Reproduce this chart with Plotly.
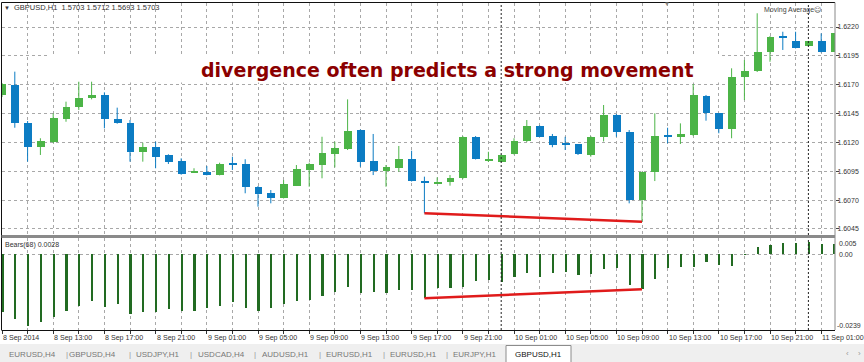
import plotly.graph_objects as go
import numpy as np

# ---------------- data ----------------
time_labels = ["8 Sep 2014", "8 Sep 13:00", "8 Sep 17:00", "8 Sep 21:00", "9 Sep 01:00",
               "9 Sep 05:00", "9 Sep 09:00", "9 Sep 13:00", "9 Sep 17:00", "9 Sep 21:00",
               "10 Sep 01:00", "10 Sep 05:00", "10 Sep 09:00", "10 Sep 13:00", "10 Sep 17:00",
               "10 Sep 21:00", "11 Sep 01:00"]
label_bars = list(range(0, 65, 4))
day_start_bars = [39, 63]

opens = [1.61611, 1.61697, 1.61371, 1.61158, 1.61206, 1.61405, 1.61504, 1.61582, 1.61611, 1.61400,
         1.61365, 1.61119, 1.61158, 1.61091, 1.61039, 1.60943, 1.60946, 1.60917, 1.61017, 1.61010,
         1.60816, 1.60759, 1.60721, 1.60825, 1.60961, 1.61004, 1.61099, 1.61143, 1.61307, 1.61039,
         1.60955, 1.60976, 1.61054, 1.60868, 1.60848, 1.60854, 1.60889, 1.61249, 1.61039, 1.61033,
         1.61097, 1.61215, 1.61342, 1.61255, 1.61189, 1.61183, 1.61091, 1.61249, 1.61437, 1.61293,
         1.60701, 1.60946, 1.61258, 1.61249, 1.61264, 1.61605, 1.61452, 1.61316, 1.61764, 1.61819,
         1.61986, 1.62111, 1.62081, 1.62035, 1.62079, 1.61986]
highs = [1.61715, 1.61813, 1.61385, 1.61236, 1.61452, 1.61553, 1.61726, 1.61726, 1.61634, 1.61501,
         1.61394, 1.61197, 1.61206, 1.61097, 1.61062, 1.60976, 1.60995, 1.61024, 1.61076, 1.61054,
         1.60822, 1.60787, 1.60874, 1.61004, 1.61024, 1.61249, 1.61206, 1.61573, 1.61312, 1.61273,
         1.61004, 1.61169, 1.61128, 1.60903, 1.60897, 1.60917, 1.61255, 1.61255, 1.61119, 1.61095,
         1.61236, 1.61394, 1.61348, 1.61273, 1.61249, 1.61186, 1.61255, 1.61524, 1.61446, 1.61307,
         1.60946, 1.61452, 1.61327, 1.61365, 1.61706, 1.61611, 1.61455, 1.61842, 1.61914, 1.62319,
         1.62122, 1.62159, 1.62159, 1.62079, 1.62145, 1.62148]
lows = [1.61593, 1.61327, 1.61033, 1.61091, 1.61195, 1.61379, 1.61481, 1.61573, 1.61322, 1.61362,
        1.61033, 1.61033, 1.60976, 1.61013, 1.60920, 1.60935, 1.60914, 1.60914, 1.60961, 1.60759,
        1.60643, 1.60672, 1.60714, 1.60822, 1.60816, 1.60889, 1.60984, 1.61134, 1.60989, 1.60917,
        1.60816, 1.60946, 1.60861, 1.60586, 1.60839, 1.60825, 1.60883, 1.61052, 1.61030, 1.61026,
        1.61095, 1.61203, 1.61247, 1.61158, 1.61134, 1.61091, 1.61076, 1.61208, 1.61249, 1.60672,
        1.60513, 1.60865, 1.61192, 1.61186, 1.61255, 1.61388, 1.61279, 1.61236, 1.61567, 1.61810,
        1.61899, 1.62001, 1.62014, 1.62031, 1.61979, 1.61983]
closes = [1.61706, 1.61371, 1.61158, 1.61212, 1.61409, 1.61504, 1.61582, 1.61611, 1.61400, 1.61365,
          1.61119, 1.61158, 1.61076, 1.61033, 1.60924, 1.60946, 1.60917, 1.61013, 1.61010, 1.60811,
          1.60753, 1.60721, 1.60837, 1.60969, 1.61010, 1.61105, 1.61149, 1.61299, 1.61033, 1.60955,
          1.60984, 1.61054, 1.60865, 1.60846, 1.60852, 1.60894, 1.61249, 1.61056, 1.61056, 1.61091,
          1.61215, 1.61342, 1.61249, 1.61177, 1.61183, 1.61097, 1.61249, 1.61437, 1.61287, 1.60701,
          1.60946, 1.61258, 1.61253, 1.61273, 1.61611, 1.61452, 1.61316, 1.61764, 1.61821, 1.61986,
          1.62116, 1.62105, 1.62015, 1.62079, 1.61986, 1.62145]
bears = [-0.0181, -0.0204, -0.0225, -0.0213, -0.0198, -0.0178, -0.0164, -0.0148, -0.0166, -0.0157,
         -0.0189, -0.0181, -0.0183, -0.0174, -0.0179, -0.0179, -0.0169, -0.0163, -0.0152, -0.0169,
         -0.0178, -0.0169, -0.0157, -0.0147, -0.0145, -0.0131, -0.0119, -0.0103, -0.0122, -0.0119,
         -0.0124, -0.0113, -0.0113, -0.0139, -0.0108, -0.0108, -0.0105, -0.0084, -0.0082, -0.0087,
         -0.0073, -0.0061, -0.0071, -0.0059, -0.0058, -0.0066, -0.0063, -0.0048, -0.0045, -0.0097,
         -0.0111, -0.0078, -0.0045, -0.0042, -0.0040, -0.0024, -0.0035, -0.0038, -0.0003, 0.0021,
         0.0028, 0.0036, 0.0034, 0.0037, 0.0031, 0.0031]
price_ticks = [1.6045, 1.6070, 1.6095, 1.6120, 1.6145, 1.6170, 1.6195, 1.6220]
div_start, div_end = 33, 50
tab_names = ["EURUSD,H4", "GBPUSD,H4", "USDJPY,H1", "USDCAD,H4", "AUDUSD,H1",
             "EURUSD,H1", "EURUSD,H1", "EURJPY,H1", "GBPUSD,H1"]

# ---------------- helpers ----------------
W, H = 864, 362
def PX(x): return x / W
def PY(y): return 1 - y / H

GREEN = "#4cb447"
BLUE = "#0c7cc3"
FONT = "Liberation Sans"
kp = 0.0025 / 28.85          # price per pixel in the main pane
xr = [(1.5 - 2) / 12.8, (835 - 2) / 12.8]

o = np.array(opens); c = np.array(closes); hi = np.array(highs); lo = np.array(lows)
idx = np.arange(len(opens))
up = c >= o
body_base = np.minimum(o, c)
body_h = np.maximum(np.abs(c - o), 0.00009)
colors = [GREEN if u else BLUE for u in up]

fig = go.Figure()

# white background box behind the caption (covers the grid)
bx0, bx1 = (50 - 2) / 12.8, (722 - 2) / 12.8
by0, by1 = 1.6220 - (82.5 - 27) * kp, 1.6220 - (55 - 27) * kp
fig.add_trace(go.Scatter(x=[bx0, bx1, bx1, bx0, bx0], y=[by0, by0, by1, by1, by0], mode="lines",
                         fill="toself", fillcolor="white", line=dict(width=0, color="white"),
                         xaxis="x", yaxis="y", hoverinfo="skip"))

# wicks
for mask, col in ((up, GREEN), (~up, BLUE)):
    xs, ys = [], []
    for i in idx[mask]:
        xs += [i, i, None]
        ys += [lo[i], hi[i], None]
    fig.add_trace(go.Scatter(x=xs, y=ys, mode="lines", line=dict(color=col, width=1),
                             xaxis="x", yaxis="y", hoverinfo="skip"))
# bodies
fig.add_trace(go.Bar(x=idx, y=body_h, base=body_base, width=0.62, marker=dict(color=colors, line=dict(width=0)),
                     xaxis="x", yaxis="y"))
# bears histogram
fig.add_trace(go.Bar(x=idx, y=bears, width=0.17, marker=dict(color="#226b22", line=dict(width=0)),
                     xaxis="x2", yaxis="y2"))
# divergence lines
fig.add_trace(go.Scatter(x=[div_start, div_end], y=[lows[div_start], lows[div_end]], mode="lines",
                         line=dict(color="#e01b1b", width=2.5), xaxis="x", yaxis="y"))
fig.add_trace(go.Scatter(x=[div_start, div_end], y=[bears[div_start], bears[div_end]], mode="lines",
                         line=dict(color="#e01b1b", width=2.5), xaxis="x2", yaxis="y2"))

grid_x = list(range(0, 66, 2))
gcol = "#a8a8a8"
common_x = dict(range=xr, domain=[PX(1.5), PX(835)], tickvals=grid_x, showgrid=True, gridcolor=gcol,
                griddash="3px,3px", gridwidth=1, zeroline=False, showline=False, showticklabels=False)
fig.update_layout(
    width=W, height=H, margin=dict(l=0, r=0, t=0, b=0),
    paper_bgcolor="white", plot_bgcolor="white", showlegend=False,
    barmode="overlay", bargap=0,
    xaxis=dict(anchor="y", ticks="", **common_x),
    xaxis2=dict(anchor="y2", ticks="outside", ticklen=3, tickcolor="#333", **common_x),
    yaxis=dict(domain=[PY(235), PY(3)], range=[1.6220 - 208 * kp, 1.6220 + 24 * kp],
               side="right", anchor="x", tickvals=price_ticks, ticktext=["%.4f" % p for p in price_ticks],
               ticks="outside", ticklen=3, tickcolor="#444", ticklabelstandoff=-3,
               tickfont=dict(family=FONT, size=7, color="#333"),
               showgrid=True, gridcolor=gcol, griddash="3px,3px", zeroline=False, showline=False),
    yaxis2=dict(domain=[PY(330), PY(238)], range=[-0.0239, 16 * 0.0239 / 76], side="right", anchor="x2",
                tickvals=[0], showticklabels=False, ticks="", showgrid=True, gridcolor=gcol,
                griddash="3px,3px", zeroline=False, showline=False),
)

shapes = []
# day separators
for b in day_start_bars:
    shapes.append(dict(type="line", xref="x", yref="paper", x0=b, x1=b, y0=PY(235), y1=PY(3),
                       line=dict(color="#222", width=1, dash="2px,2px")))
    shapes.append(dict(type="line", xref="x2", yref="paper", x0=b, x1=b, y0=PY(330), y1=PY(238),
                       line=dict(color="#222", width=1, dash="2px,2px")))
# frame
shapes += [
    dict(type="line", xref="paper", yref="paper", x0=PX(1.5), x1=PX(1.5), y0=PY(330), y1=PY(2.5),
         line=dict(color="#111", width=1)),
    dict(type="line", xref="paper", yref="paper", x0=PX(1.5), x1=PX(835), y0=PY(2.5), y1=PY(2.5),
         line=dict(color="#111", width=1)),
    dict(type="line", xref="paper", yref="paper", x0=PX(835), x1=PX(835), y0=PY(330), y1=PY(2.5),
         line=dict(color="#888", width=1)),
    dict(type="rect", xref="paper", yref="paper", x0=PX(1.5), x1=PX(835), y0=PY(238), y1=PY(235),
         fillcolor="#8a8a8a", line=dict(width=0)),
    dict(type="line", xref="paper", yref="paper", x0=PX(1.5), x1=PX(835), y0=PY(330.5), y1=PY(330.5),
         line=dict(color="#111", width=1)),
    # tab bar
    dict(type="rect", xref="paper", yref="paper", x0=0, x1=1, y0=0, y1=PY(344),
         fillcolor="#efefef", line=dict(width=0)),
    dict(type="rect", xref="paper", yref="paper", x0=PX(506), x1=PX(571), y0=PY(363), y1=PY(345.5),
         fillcolor="white", line=dict(color="#8c8c8c", width=1)),
]
fig.update_layout(shapes=shapes)

ann = []
def text(x, y, s, size=7, color="#333", xanchor="left", bold=False, family=FONT, xref="paper"):
    ann.append(dict(x=x, y=y, xref=xref, yref="paper", text=("<b>%s</b>" % s) if bold else s,
                    showarrow=False, xanchor=xanchor, yanchor="middle", borderpad=0,
                    font=dict(family=family, size=size, color=color)))

text(PX(3), PY(8), "▼", size=6, color="#333")
text(PX(13), PY(8), "GBPUSD,H1&nbsp;&nbsp;1.5703 1.5712 1.5693 1.5703", size=7.5, color="#333")
text(PX(763), PY(10), "Moving Average☹", size=7, color="#444")
text(PX(666.5), PY(3.5), "▼", size=6, color="#888", xanchor="center")
text(PX(447), PY(69.5), "divergence often predicts a strong movement", size=19, color="#8b0000",
     xanchor="center", bold=True, family="DejaVu Sans")
text(PX(4), PY(245), "Bears(68) 0.0028", size=7, color="#333")
text(PX(838), PY(243), "0.005", size=7, color="#333")
text(PX(838), PY(254), "0.00", size=7, color="#333")
text(PX(836), PY(325), "-0.0239", size=7, color="#333")
for b, lab in zip(label_bars, time_labels):
    text(b, PY(338), lab, size=7.1, color="#333", xref="x2")
tab_centers = [32.5, 92.5, 158, 221, 285, 349, 413, 475, 538]
for k, (cx, name) in enumerate(zip(tab_centers, tab_names)):
    active = k == len(tab_names) - 1
    text(PX(cx), PY(354), name, size=8, color="#111" if active else "#777", xanchor="center")
for sx in [66.5, 130, 190.5, 255, 319.5, 383.5, 446.5]:
    text(PX(sx), PY(354), "|", size=8, color="#999", xanchor="center")
text(PX(847), PY(353), "‹", size=8, color="#999", xanchor="center")
text(PX(859), PY(353), "›", size=8, color="#999", xanchor="center")
fig.update_layout(annotations=ann)

fig.write_html("out.html")
